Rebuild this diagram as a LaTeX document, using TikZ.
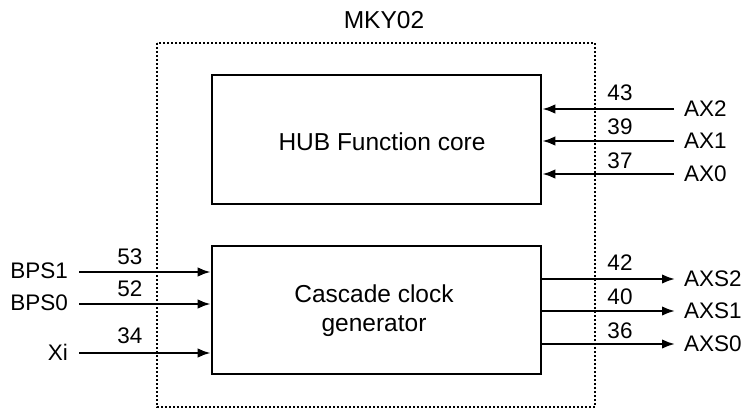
\documentclass[tikz,border=0pt]{standalone}
\usepackage{fontspec}
\setmainfont{Liberation Sans}
\usetikzlibrary{arrows.meta}
\begin{document}
\begin{tikzpicture}[x=1pt,y=-1pt,
  blk/.style={draw,line width=2.6pt,minimum width=329pt,inner sep=0pt},
  frame/.style={line width=2.2pt,dash pattern=on 2pt off 2pt},
  arr/.style={line width=2.2pt,-{Latex[length=13pt,width=9.5pt]}},
  pin/.style={font=\fontsize{22.5}{25}\selectfont,inner sep=0pt},
  num/.style={font=\fontsize{22.5}{25}\selectfont,inner sep=0pt},
  title/.style={font=\fontsize{24.5}{27}\selectfont,inner sep=0pt,align=center}]
\useasboundingbox (0,0) rectangle (750,412);
% frame
\draw[frame] (157,43) rectangle (595,407);
\node[title] (t) at (384,20) {MKY02};
% blocks
\node[blk,minimum height=129pt] (hub) at (376.5,139.5) {};
\node[title] (hubt) at (382,142) {HUB Function core};
\node[blk,minimum height=128pt] (cas) at (376.5,310) {};
\node[title,align=center] (cast) at (374,311) {Cascade clock\\[2pt]generator};
% right inputs
\coordinate (ax2) at (674,109);
\coordinate (ax1) at (674,141);
\coordinate (ax0) at (674,174);
\draw[arr] (ax2) -- (ax2 -| hub.east);
\draw[arr] (ax1) -- (ax1 -| hub.east);
\draw[arr] (ax0) -- (ax0 -| hub.east);
\node[pin,anchor=west] (lax2) at (684,109) {AX2};
\node[pin,anchor=west] (lax1) at (684,141) {AX1};
\node[pin,anchor=west] (lax0) at (684,174) {AX0};
\node[num] (n43) at (620,93) {43};
\node[num] (n39) at (620,127) {39};
\node[num] (n37) at (620,161) {37};
% left inputs
\coordinate (bps1) at (79,272);
\coordinate (bps0) at (79,304);
\coordinate (xi) at (79,353);
\draw[arr] (bps1) -- (bps1 -| cas.west);
\draw[arr] (bps0) -- (bps0 -| cas.west);
\draw[arr] (xi) -- (xi -| cas.west);
\node[pin,anchor=east] (lbps1) at (68,271) {BPS1};
\node[pin,anchor=east] (lbps0) at (68,303) {BPS0};
\node[pin,anchor=east] (lxi) at (68,352) {Xi};
\node[num] (n53) at (130,257) {53};
\node[num] (n52) at (130,289) {52};
\node[num] (n34) at (130,336) {34};
% right outputs
\coordinate (axs2) at (675,279);
\coordinate (axs1) at (675,311);
\coordinate (axs0) at (675,344);
\draw[arr] (axs2 -| cas.east) -- (axs2);
\draw[arr] (axs1 -| cas.east) -- (axs1);
\draw[arr] (axs0 -| cas.east) -- (axs0);
\node[pin,anchor=west] (laxs2) at (684,279) {AXS2};
\node[pin,anchor=west] (laxs1) at (684,311) {AXS1};
\node[pin,anchor=west] (laxs0) at (684,344) {AXS0};
\node[num] (n42) at (620,263) {42};
\node[num] (n40) at (620,297) {40};
\node[num] (n36) at (620,331) {36};
\end{tikzpicture}
\end{document}
